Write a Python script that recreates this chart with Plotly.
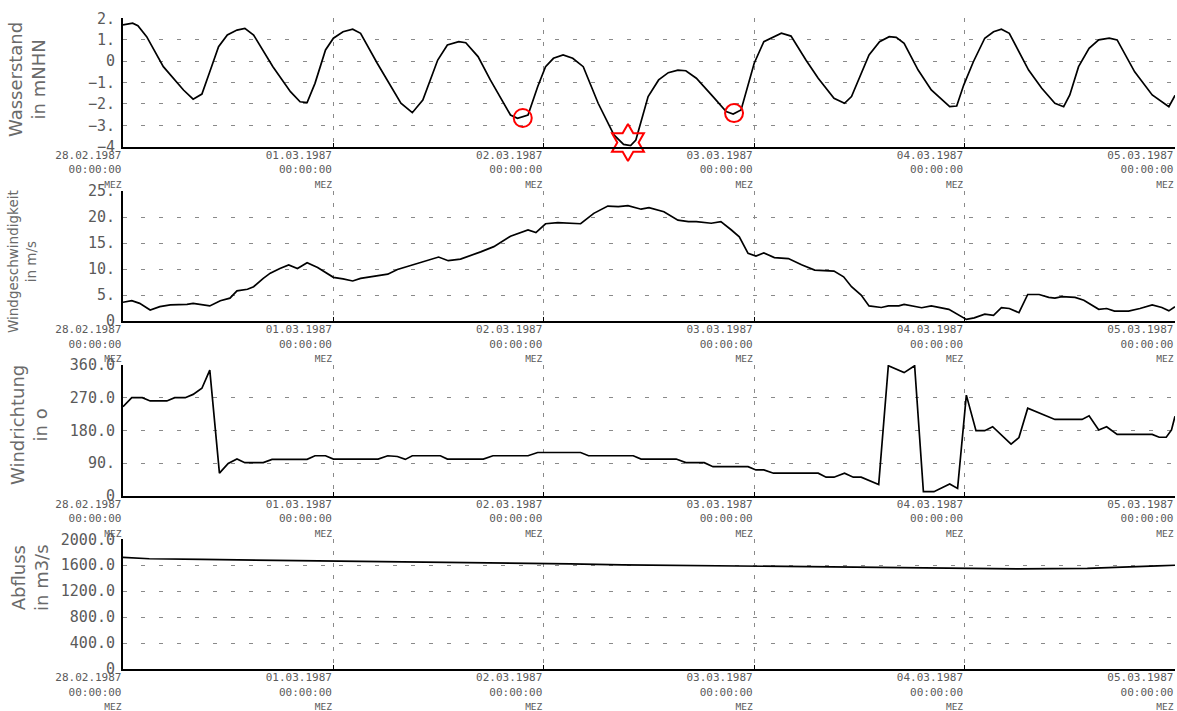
import pandas as pd
import plotly.graph_objects as go
from plotly.subplots import make_subplots

# ---------------- data (hour offsets from 28.02.1987 00:00 MEZ) ----------------
wl_h = [0, 1.1, 1.7, 2.7, 4.6, 6.9, 8.0, 9.0, 9.9, 10.9, 11.9, 13.0, 13.9, 14.9, 17.1, 19.1, 20.2, 21.0, 21.9, 23.1,
        24.0, 25.1, 26.2, 27.1, 29.0, 31.7, 33.0, 34.2, 35.9, 37.0, 38.3, 39.1, 40.5, 41.9, 44.2, 45.0, 46.2, 47.3, 48.2, 49.1,
        50.2, 51.3, 52.5, 54.2, 56.0, 57.1, 57.9, 58.5, 59.9, 61.1, 62.2, 63.3, 64.2, 65.4, 67.3, 68.8, 69.6, 70.5, 72.0, 73.1,
        75.1, 76.2, 77.9, 79.3, 81.1, 82.3, 83.1, 85.1, 86.3, 87.4, 88.2, 89.1, 90.7, 92.2, 94.3, 95.1, 95.9, 97.0, 98.3, 99.3,
        100.2, 101.1, 103.3, 104.8, 106.3, 107.3, 108.0, 109.0, 110.2, 111.3, 112.5, 113.4, 115.4, 117.4, 119.3, 120.0]
wl_v = [1.69, 1.77, 1.65, 1.14, -0.26, -1.35, -1.78, -1.54, -0.5, 0.67, 1.22, 1.45, 1.53, 1.22, -0.26, -1.43, -1.9, -1.94, -1.04, 0.52,
        1.07, 1.37, 1.49, 1.3, -0.1, -1.97, -2.41, -1.82, 0.05, 0.75, 0.91, 0.86, 0.21, -0.88, -2.52, -2.67, -2.52, -1.2, -0.26, 0.13,
        0.29, 0.13, -0.26, -1.97, -3.45, -3.89, -3.95, -3.69, -1.66, -0.88, -0.54, -0.42, -0.45, -0.8, -1.66, -2.36, -2.47, -2.28, -0.1, 0.91,
        1.3, 1.17, 0.05, -0.8, -1.74, -1.97, -1.66, 0.29, 0.91, 1.14, 1.11, 0.83, -0.42, -1.35, -2.13, -2.1, -1.12, -0.03, 1.07, 1.37,
        1.49, 1.3, -0.42, -1.27, -1.97, -2.13, -1.58, -0.26, 0.6, 0.99, 1.07, 0.99, -0.5, -1.58, -2.13, -1.6]

# highlighted low tides (circles) and lowest low tide (star)
low_h = [45.6, 69.7]
low_v = [-2.66, -2.43]
min_h = [57.6]
min_v = [-3.80]

ws_h = [0, 1.0, 1.9, 3.1, 4.2, 5.4, 7.3, 8.0, 9.9, 11.1, 12.2, 13.0, 14.2, 14.9, 16.0, 16.8, 17.9, 18.9, 19.9, 21.0,
        22.2, 23.3, 24.0, 25.1, 26.2, 27.1, 28.2, 29.4, 30.2, 31.3, 33.1, 34.7, 36.0, 37.1, 38.5, 40.8, 42.3, 44.2, 46.2, 47.1,
        48.2, 49.6, 52.2, 53.7, 55.3, 56.5, 57.6, 59.1, 60.0, 61.7, 63.3, 64.5, 65.4, 67.1, 68.2, 69.4, 70.3, 71.3, 72.2, 73.1,
        74.3, 75.9, 77.4, 78.9, 81.1, 82.2, 83.1, 84.2, 85.1, 86.5, 87.3, 88.5, 89.1, 91.1, 92.2, 94.2, 95.3, 96.2, 97.1, 98.3,
        99.3, 100.2, 101.1, 102.2, 103.2, 104.5, 105.6, 106.3, 107.1, 108.6, 109.6, 111.3, 112.2, 113.1, 114.7, 116.0, 117.4, 118.5, 119.3, 120.0]
ws_v = [3.6, 3.9, 3.4, 2.1, 2.75, 3.1, 3.2, 3.4, 2.9, 3.9, 4.4, 5.8, 6.1, 6.6, 8.2, 9.2, 10.1, 10.8, 10.1, 11.2,
        10.3, 9.2, 8.4, 8.1, 7.7, 8.2, 8.5, 8.8, 9.0, 9.9, 10.8, 11.7, 12.3, 11.6, 11.9, 13.3, 14.3, 16.3, 17.5, 17.0,
        18.7, 18.9, 18.7, 20.7, 22.1, 22.0, 22.2, 21.5, 21.8, 21.0, 19.4, 19.1, 19.1, 18.8, 19.1, 17.5, 16.2, 13.0, 12.5, 13.1,
        12.2, 12.0, 10.8, 9.8, 9.6, 8.5, 6.6, 5.0, 2.9, 2.6, 2.9, 2.9, 3.2, 2.55, 2.9, 2.25, 1.15, 0.3, 0.6, 1.3,
        1.1, 2.55, 2.4, 1.6, 5.1, 5.1, 4.55, 4.4, 4.7, 4.55, 4.0, 2.25, 2.4, 1.9, 1.9, 2.4, 3.1, 2.6, 1.95, 2.75]

wd_h = [0, 1.0, 2.2, 3.1, 5.0, 5.9, 7.1, 8.0, 9.0, 9.9, 11.0, 12.0, 13.0, 13.9, 16.0, 17.0, 21.0, 21.9, 23.1, 24.0,
        29.1, 30.2, 31.3, 32.2, 33.0, 36.2, 37.0, 41.1, 42.2, 46.2, 47.3, 52.2, 53.1, 58.2, 59.1, 63.1, 64.2, 66.3, 67.3, 71.3,
        72.2, 73.1, 74.2, 79.3, 80.2, 81.1, 82.3, 83.3, 84.2, 86.2, 87.3, 89.1, 90.3, 91.3, 92.5, 94.3, 95.2, 96.2, 97.3, 98.3,
        99.2, 100.2, 101.3, 102.2, 103.2, 106.3, 109.4, 110.2, 111.3, 112.2, 113.4, 117.4, 118.2, 119.0, 119.6, 120.0]
wd_v = [245, 270, 270, 261, 261, 270, 270, 279, 296, 346, 62, 89, 101, 91, 91, 100, 100, 110, 110, 101,
        101, 110, 108, 100, 110, 110, 101, 101, 110, 110, 119, 119, 110, 110, 101, 101, 91, 91, 80, 80,
        71, 71, 62, 62, 51, 51, 62, 51, 51, 31, 358, 339, 358, 11, 11, 32, 20, 277, 179, 179,
        190, 167, 142, 160, 241, 210, 210, 220, 181, 190, 169, 169, 161, 161, 181, 219]

q_h = [0, 3, 9, 16, 24, 32, 39, 45, 51, 57, 64, 72, 80, 90, 102, 110, 114, 118, 120]
q_v = [1722, 1700, 1690, 1680, 1670, 1658, 1645, 1632, 1620, 1607, 1597, 1587, 1578, 1565, 1545, 1552, 1566, 1590, 1600]

day_ticks = ["1987-02-28", "1987-03-01", "1987-03-02", "1987-03-03", "1987-03-04", "1987-03-05"]
day_labels = ["28.02.1987", "01.03.1987", "02.03.1987", "03.03.1987", "04.03.1987", "05.03.1987"]
time_label = "00:00:00"
zone_label = "MEZ"

wl_ticks = [-4, -3, -2, -1, 0, 1, 2]
wl_text = ["−4", "−3.", "−2.", "−1.", "0", "1.", "2."]
ws_ticks = [0, 5, 10, 15, 20, 25]
ws_text = ["0", "5.", "10.", "15.", "20.", "25."]
wd_ticks = [0, 90, 180, 270, 360]
wd_text = ["0", "90.", "180.0", "270.0", "360.0"]
q_ticks = [0, 400, 800, 1200, 1600, 2000]
q_text = ["0", "400.0", "800.0", "1200.0", "1600.0", "2000.0"]

titles = ["Wasserstand<br>in mNHN", "Windgeschwindigkeit<br>in m/s", "Windrichtung<br>in o", "Abfluss<br>in m3/s"]

# ---------------- figure ----------------
base = pd.Timestamp("1987-02-28 00:00")


def to_time(hours):
    return [base + pd.Timedelta(hours=h) for h in hours]


W, H = 1177, 711
fig = make_subplots(rows=4, cols=1)

line_style = dict(color="black", width=1.7)
fig.add_trace(go.Scatter(x=to_time(wl_h), y=wl_v, mode="lines", line=line_style), row=1, col=1)
fig.add_trace(go.Scatter(x=to_time(low_h), y=low_v, mode="markers", cliponaxis=False,
                         marker=dict(symbol="circle-open", size=18, color="red", line=dict(color="red", width=2))),
              row=1, col=1)
fig.add_trace(go.Scatter(x=to_time(min_h), y=min_v, mode="markers", cliponaxis=False,
                         marker=dict(symbol="hexagram-open", size=28, color="red", line=dict(color="red", width=2))),
              row=1, col=1)
fig.add_trace(go.Scatter(x=to_time(ws_h), y=ws_v, mode="lines", line=line_style), row=2, col=1)
fig.add_trace(go.Scatter(x=to_time(wd_h), y=wd_v, mode="lines", line=line_style), row=3, col=1)
fig.add_trace(go.Scatter(x=to_time(q_h), y=q_v, mode="lines", line=line_style), row=4, col=1)

# pixel geometry of the panels
x_left, x_right = 123, 1175
panels_px = [(18.3, 146.7), (191, 321), (365, 495.7), (539.3, 669)]
y_ranges = [[-4, 2], [0, 25], [0, 360], [0, 2000]]
y_ticks = [(wl_ticks, wl_text), (ws_ticks, ws_text), (wd_ticks, wd_text), (q_ticks, q_text)]

tick_text = [f"{d}<br>{time_label}<br><span style='font-size:9.5px'>{zone_label}</span>" for d in day_labels]
grey = "#5a5a5a"
x_end = base + pd.Timedelta(days=5)

for i, (top, bot) in enumerate(panels_px):
    sfx = "" if i == 0 else str(i + 1)
    fig.layout["xaxis" + sfx].update(
        domain=[x_left / W, x_right / W],
        range=[base, x_end], automargin=False,
        tickmode="array", tickvals=day_ticks, ticktext=tick_text,
        ticklabelposition="outside left", ticklabelstandoff=-3,
        tickfont=dict(family="DejaVu Sans Mono", size=11, color=grey),
        showgrid=True, gridcolor="#8a8a8a", gridwidth=1, griddash="4px,8px",
        showline=True, linecolor="black", linewidth=2,
        ticks="inside", ticklen=4, tickcolor="black", tickwidth=1,
        zeroline=False,
    )
    tv, tt = y_ticks[i]
    fig.layout["yaxis" + sfx].update(
        domain=[1 - bot / H, 1 - top / H],
        range=y_ranges[i], automargin=False,
        tickmode="array", tickvals=tv, ticktext=tt,
        tickfont=dict(family="DejaVu Sans Mono", size=15, color=grey),
        ticklabelstandoff=3,
        showgrid=True, gridcolor="#8a8a8a", gridwidth=1, griddash="4px,14px",
        showline=True, linecolor="black", linewidth=2,
        ticks="", zeroline=False,
    )

# y-axis titles (rotated, two lines)
title_pos = [(27, 80, 18), (22, 262, 13.5), (29, 425, 18), (30, 578, 18)]
for txt, (xp, yp, fs) in zip(titles, title_pos):
    fig.add_annotation(text=txt, xref="paper", yref="paper", x=xp / W, y=1 - yp / H,
                       xanchor="center", yanchor="middle", textangle=-90, showarrow=False,
                       align="center", font=dict(family="DejaVu Sans", size=fs, color="#6a6a6a"))

fig.update_layout(width=W, height=H, margin=dict(l=0, r=0, t=0, b=0, autoexpand=False),
                  paper_bgcolor="white", plot_bgcolor="white", showlegend=False)

fig.write_html("out.html", config={"displayModeBar": False},
               post_script="document.body.style.margin='0px';document.body.style.overflow='hidden';")
